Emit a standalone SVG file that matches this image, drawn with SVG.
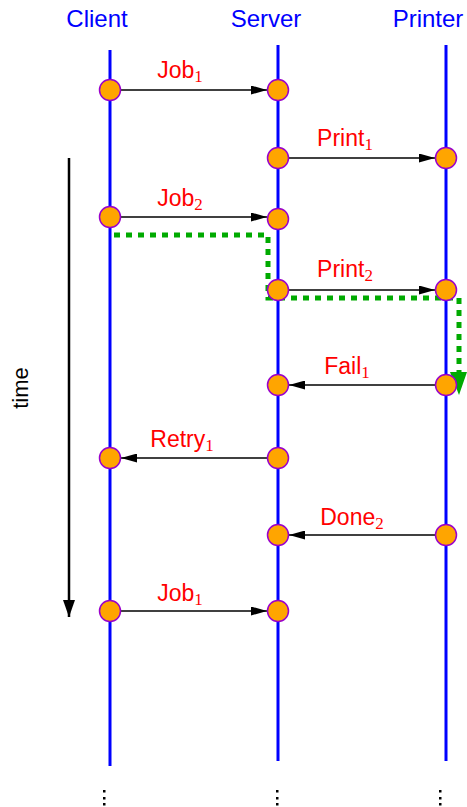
<svg xmlns="http://www.w3.org/2000/svg" width="467" height="807" viewBox="0 0 467 807">
<style>
.life{stroke:#0000ff;stroke-width:3;fill:none}
.hdr{font-family:"Liberation Sans","DejaVu Sans",sans-serif;font-size:24px;fill:#0000ff;text-anchor:middle}
.lbl{font-family:"Liberation Sans","DejaVu Sans",sans-serif;font-size:23px;fill:#ff0000;text-anchor:middle}
.sub{font-family:"Liberation Serif","DejaVu Serif",serif;font-size:17px}
.ev{fill:#ffa500;stroke:#9900cc;stroke-width:1.5}
.msg{stroke:#000;stroke-width:1.5;fill:none;marker-end:url(#ah)}
.dots{fill:#000}
</style>
<defs>
<marker id="ah" viewBox="0 0 16 9" refX="16" refY="4.5" markerWidth="16" markerHeight="9" markerUnits="userSpaceOnUse" orient="auto"><path d="M0,0 L16,4.5 L0,9 z" fill="#000"/></marker>
<marker id="ta" viewBox="0 0 17 12" refX="17" refY="6" markerWidth="17" markerHeight="12" markerUnits="userSpaceOnUse" orient="auto"><path d="M0,0 L17,6 L0,12 z" fill="#000"/></marker>
</defs>
<g id="headers">
<text class="hdr" x="97" y="27">Client</text>
<text class="hdr" x="266" y="27">Server</text>
<text class="hdr" x="428" y="27">Printer</text>
</g>
<g id="lifelines">
<line class="life" x1="110" y1="50" x2="110" y2="766"/>
<line class="life" x1="278" y1="45" x2="278" y2="761"/>
<line class="life" x1="446" y1="45" x2="446" y2="761"/>
</g>
<g id="continuation" class="dots">
<rect x="103" y="790" width="2.5" height="2.5"/><rect x="103" y="797" width="2.5" height="2.5"/><rect x="103" y="803" width="2.5" height="2.5"/>
<rect x="276" y="790" width="2.5" height="2.5"/><rect x="276" y="797" width="2.5" height="2.5"/><rect x="276" y="803" width="2.5" height="2.5"/>
<rect x="439" y="790" width="2.5" height="2.5"/><rect x="439" y="797" width="2.5" height="2.5"/><rect x="439" y="803" width="2.5" height="2.5"/>
</g>
<g id="time-axis">
<line x1="69" y1="158" x2="69" y2="617" stroke="#000" stroke-width="2.5" marker-end="url(#ta)"/>
<text x="28" y="388" transform="rotate(-90 28 388)" text-anchor="middle" font-family="Liberation Sans,DejaVu Sans,sans-serif" font-size="22" fill="#000">time</text>
</g>
<g id="connectors">
<line class="msg" x1="121" y1="90" x2="267" y2="90"/>
<line class="msg" x1="289" y1="158" x2="435" y2="158"/>
<line class="msg" x1="121" y1="217" x2="267" y2="217"/>
<line class="msg" x1="289" y1="290" x2="435" y2="290"/>
<line class="msg" x1="435" y1="385" x2="289" y2="385"/>
<line class="msg" x1="267" y1="458" x2="121" y2="458"/>
<line class="msg" x1="435" y1="535" x2="289" y2="535"/>
<line class="msg" x1="121" y1="611" x2="267" y2="611"/>
<path d="M114,235 H268 V298 H459 V374" fill="none" stroke="#00aa00" stroke-width="5" stroke-dasharray="6,6"/>
<path d="M450,372 L467,372 L459,395 z" fill="#00aa00"/>
</g>
<g id="labels">
<text class="lbl" x="180" y="78">Job<tspan class="sub" dy="4">1</tspan></text>
<text class="lbl" x="345" y="146">Print<tspan class="sub" dy="4">1</tspan></text>
<text class="lbl" x="180" y="206">Job<tspan class="sub" dy="4">2</tspan></text>
<text class="lbl" x="345" y="277">Print<tspan class="sub" dy="4">2</tspan></text>
<text class="lbl" x="347" y="374">Fail<tspan class="sub" dy="4">1</tspan></text>
<text class="lbl" x="182" y="447">Retry<tspan class="sub" dy="4">1</tspan></text>
<text class="lbl" x="352" y="525">Done<tspan class="sub" dy="4">2</tspan></text>
<text class="lbl" x="180" y="601">Job<tspan class="sub" dy="4">1</tspan></text>
</g>
<g id="n1"><circle class="ev" cx="110" cy="90" r="10.5"/></g>
<g id="n2"><circle class="ev" cx="278" cy="90" r="10.5"/></g>
<g id="n3"><circle class="ev" cx="278" cy="158" r="10.5"/></g>
<g id="n4"><circle class="ev" cx="446" cy="158" r="10.5"/></g>
<g id="n5"><circle class="ev" cx="110" cy="217" r="10.5"/></g>
<g id="n6"><circle class="ev" cx="278" cy="219" r="10.5"/></g>
<g id="n7"><circle class="ev" cx="278" cy="290" r="10.5"/></g>
<g id="n8"><circle class="ev" cx="446" cy="290" r="10.5"/></g>
<g id="n9"><circle class="ev" cx="278" cy="385" r="10.5"/></g>
<g id="n10"><circle class="ev" cx="446" cy="385" r="10.5"/></g>
<g id="n11"><circle class="ev" cx="110" cy="458" r="10.5"/></g>
<g id="n12"><circle class="ev" cx="278" cy="458" r="10.5"/></g>
<g id="n13"><circle class="ev" cx="278" cy="535" r="10.5"/></g>
<g id="n14"><circle class="ev" cx="446" cy="535" r="10.5"/></g>
<g id="n15"><circle class="ev" cx="110" cy="611" r="10.5"/></g>
<g id="n16"><circle class="ev" cx="278" cy="611" r="10.5"/></g>
</svg>
